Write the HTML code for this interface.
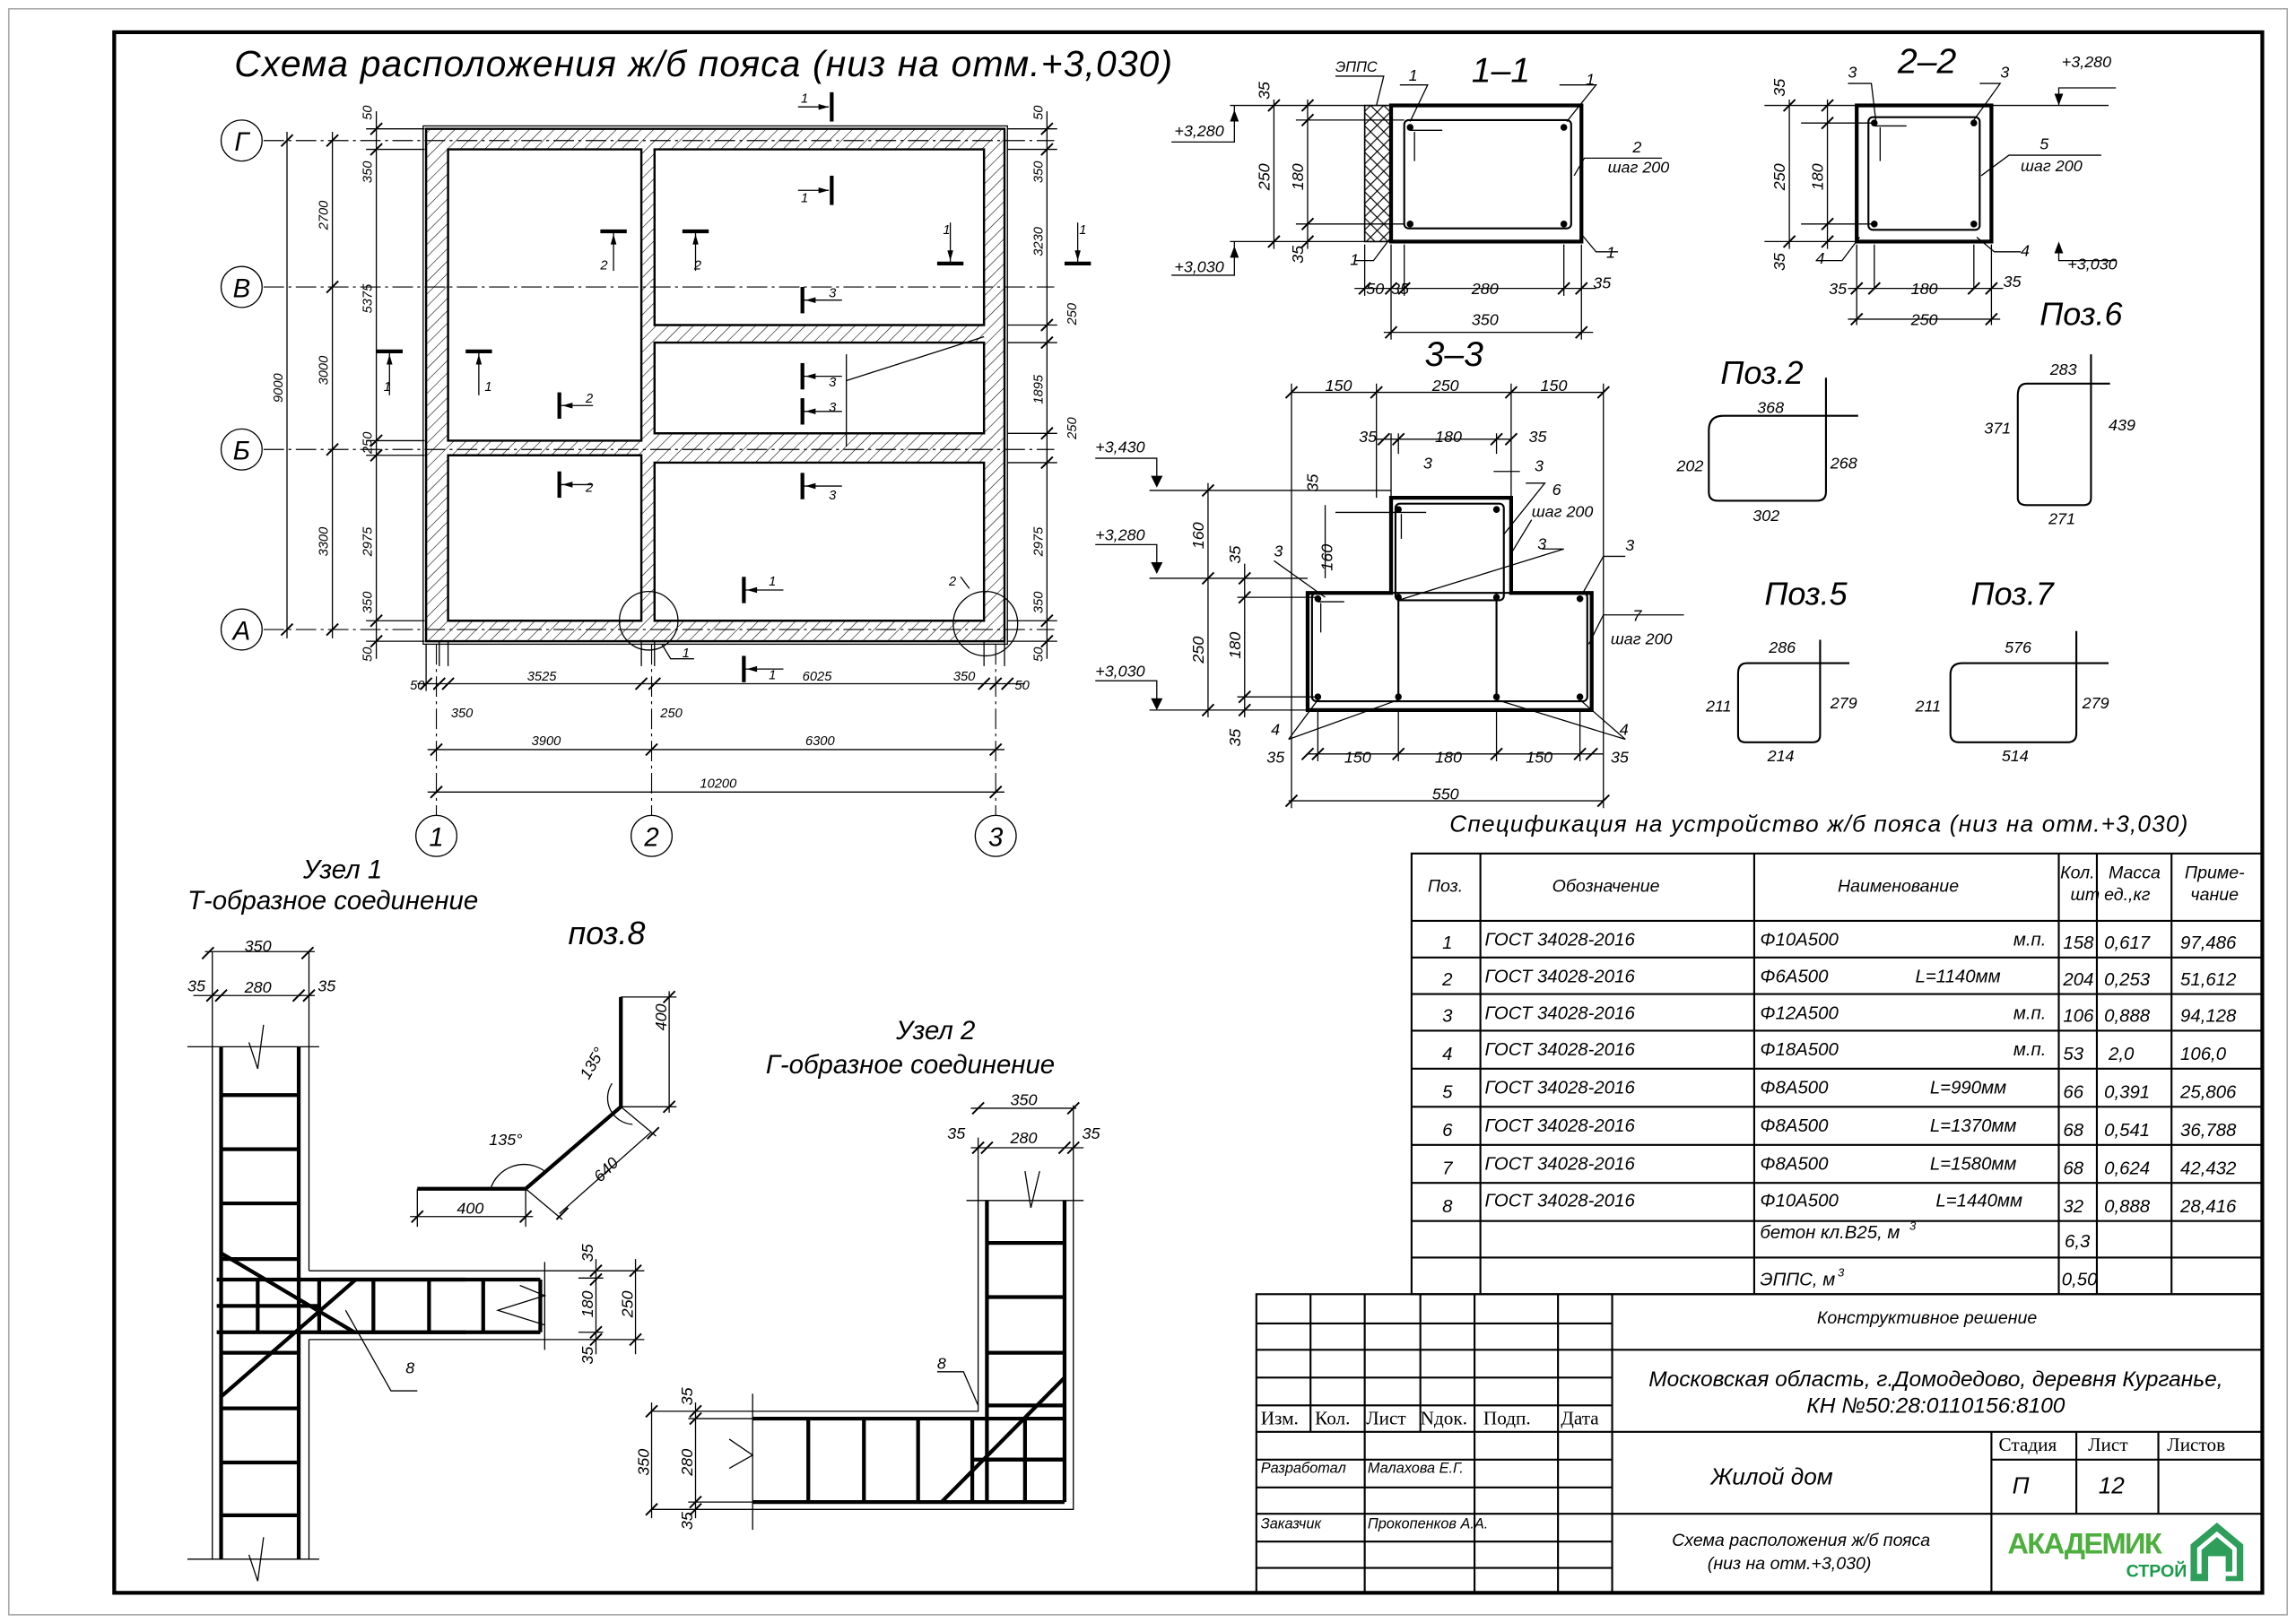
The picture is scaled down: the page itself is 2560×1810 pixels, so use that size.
<!DOCTYPE html>
<html><head><meta charset="utf-8">
<style>
html,body{margin:0;padding:0;background:#fff}
svg{display:block}
text{font-family:"Liberation Sans","DejaVu Sans",sans-serif;font-style:italic;fill:#000}
.s{font-family:"Liberation Serif",serif;font-style:normal}
.t{stroke:#000;stroke-width:.8;fill:none}
.m{stroke:#000;stroke-width:1.3;fill:none}
.b{stroke:#000;stroke-width:2.6;fill:none}
.ax{stroke:#000;stroke-width:.7;fill:none;stroke-dasharray:14 3 2 3}
</style></head>
<body>
<svg width="2560" height="1810" viewBox="0 0 1568 1108.6" xmlns="http://www.w3.org/2000/svg">
<defs>
<pattern id="h" width="6" height="6" patternUnits="userSpaceOnUse" patternTransform="rotate(45)">
<line x1="0" y1="0" x2="0" y2="6" stroke="#000" stroke-width=".7"/>
</pattern>
<pattern id="x" width="9" height="9" patternUnits="userSpaceOnUse">
<path d="M0,0L9,9M9,0L0,9" stroke="#000" stroke-width=".7"/>
</pattern>
<path id="tk" d="M-4,4L4,-4" stroke="#000" stroke-width="1.2"/>
</defs>
<rect x="0" y="0" width="1568" height="1108.6" fill="#fff"/>
<rect x="6" y="6" width="1556" height="1097" fill="none" stroke="#aaa" stroke-width="1"/>
<rect x="78" y="22" width="1467" height="1066" class="b" stroke-width="2"/>

<!-- TITLE -->
<text x="160" y="52" font-size="25" letter-spacing="0.7">Схема расположения ж/б пояса (низ на отм.+3,030)</text>

<!-- PLAN -->
<path fill-rule="evenodd" fill="url(#h)" stroke="#000" stroke-width="1.5" d="M291,88H686V438H291Z M306,102H438V301H306Z M447,102H672V222H447Z M447,234H672V296H447Z M306,311H438V424H306Z M447,316H672V424H447Z"/>
<rect x="289" y="86" width="399" height="354" class="t"/>
<line x1="300" y1="438" x2="300" y2="455" class="t"/><line x1="306" y1="438" x2="306" y2="455" class="t"/>
<line x1="672" y1="438" x2="672" y2="455" class="t"/><line x1="686" y1="438" x2="686" y2="455" class="t"/>
<line x1="438" y1="438" x2="438" y2="455" class="t"/><line x1="447" y1="438" x2="447" y2="455" class="t"/>
<line x1="180" y1="96" x2="720" y2="96" class="ax"/>
<line x1="180" y1="196" x2="720" y2="196" class="ax"/>
<line x1="180" y1="307" x2="720" y2="307" class="ax"/>
<line x1="180" y1="430" x2="720" y2="430" class="ax"/>
<line x1="298" y1="440" x2="298" y2="557" class="ax"/>
<line x1="445" y1="440" x2="445" y2="557" class="ax"/>
<line x1="680" y1="440" x2="680" y2="557" class="ax"/>
<g class="t">
<circle cx="165" cy="96" r="14"/><circle cx="165" cy="196" r="14"/><circle cx="165" cy="307" r="14"/><circle cx="165" cy="430" r="14"/>
<circle cx="298" cy="571" r="14"/><circle cx="445" cy="571" r="14"/><circle cx="680" cy="571" r="14"/>
</g>
<g font-size="18" text-anchor="middle">
<text x="165" y="103">Г</text><text x="165" y="203">В</text><text x="165" y="314">Б</text><text x="165" y="437">А</text>
<text x="298" y="578">1</text><text x="445" y="578">2</text><text x="680" y="578">3</text>
</g>
<g class="t">
<line x1="196" y1="90" x2="196" y2="436"/><line x1="227" y1="90" x2="227" y2="436"/><line x1="257" y1="76" x2="257" y2="450"/>
<line x1="715" y1="76" x2="715" y2="450"/>
<line x1="250" y1="88" x2="290" y2="88"/><line x1="250" y1="102" x2="290" y2="102"/><line x1="250" y1="438" x2="290" y2="438"/><line x1="250" y1="424" x2="290" y2="424"/>
<line x1="250" y1="301" x2="290" y2="301"/><line x1="250" y1="311" x2="290" y2="311"/>
<line x1="688" y1="88" x2="722" y2="88"/><line x1="688" y1="102" x2="722" y2="102"/><line x1="688" y1="222" x2="722" y2="222"/><line x1="688" y1="234" x2="722" y2="234"/>
<line x1="688" y1="296" x2="722" y2="296"/><line x1="688" y1="316" x2="722" y2="316"/><line x1="688" y1="424" x2="722" y2="424"/><line x1="688" y1="438" x2="722" y2="438"/>
<line x1="285" y1="467" x2="700" y2="467"/><line x1="292" y1="512" x2="686" y2="512"/><line x1="292" y1="541" x2="686" y2="541"/>
<line x1="291" y1="440" x2="291" y2="472"/>
</g>
<g>
<use href="#tk" x="196" y="96"/><use href="#tk" x="196" y="430"/>
<use href="#tk" x="227" y="96"/><use href="#tk" x="227" y="196"/><use href="#tk" x="227" y="307"/><use href="#tk" x="227" y="430"/>
<use href="#tk" x="257" y="88"/><use href="#tk" x="257" y="102"/><use href="#tk" x="257" y="301"/><use href="#tk" x="257" y="311"/><use href="#tk" x="257" y="424"/><use href="#tk" x="257" y="438"/>
<use href="#tk" x="715" y="88"/><use href="#tk" x="715" y="102"/><use href="#tk" x="715" y="222"/><use href="#tk" x="715" y="234"/><use href="#tk" x="715" y="296"/><use href="#tk" x="715" y="316"/><use href="#tk" x="715" y="424"/><use href="#tk" x="715" y="438"/>
<use href="#tk" x="291" y="467"/><use href="#tk" x="300" y="467"/><use href="#tk" x="306" y="467"/><use href="#tk" x="438" y="467"/><use href="#tk" x="447" y="467"/><use href="#tk" x="672" y="467"/><use href="#tk" x="680" y="467"/><use href="#tk" x="688" y="467"/>
<use href="#tk" x="298" y="512"/><use href="#tk" x="445" y="512"/><use href="#tk" x="680" y="512"/>
<use href="#tk" x="298" y="541"/><use href="#tk" x="680" y="541"/>
</g>
<g font-size="9">
<text transform="translate(193,275) rotate(-90)">9000</text>
<text transform="translate(224,157) rotate(-90)">2700</text>
<text transform="translate(224,263) rotate(-90)">3000</text>
<text transform="translate(224,380) rotate(-90)">3300</text>
<text transform="translate(254,82) rotate(-90)">50</text>
<text transform="translate(254,125) rotate(-90)">350</text>
<text transform="translate(254,214) rotate(-90)">5375</text>
<text transform="translate(254,310) rotate(-90)">250</text>
<text transform="translate(254,380) rotate(-90)">2975</text>
<text transform="translate(254,419) rotate(-90)">350</text>
<text transform="translate(254,452) rotate(-90)">50</text>
<text transform="translate(712,82) rotate(-90)">50</text>
<text transform="translate(712,125) rotate(-90)">350</text>
<text transform="translate(712,175) rotate(-90)">3230</text>
<text transform="translate(735,222) rotate(-90)">250</text>
<text transform="translate(712,276) rotate(-90)">1895</text>
<text transform="translate(735,300) rotate(-90)">250</text>
<text transform="translate(712,380) rotate(-90)">2975</text>
<text transform="translate(712,419) rotate(-90)">350</text>
<text transform="translate(712,452) rotate(-90)">50</text>
<text x="280" y="471">50</text><text x="360" y="465">3525</text><text x="548" y="465">6025</text><text x="651" y="465">350</text><text x="693" y="471">50</text>
<text x="308" y="490">350</text><text x="451" y="490">250</text>
<text x="363" y="509">3900</text><text x="550" y="509">6300</text><text x="478" y="538">10200</text>
<text x="547" y="70">1</text><text x="547" y="138">1</text><text x="410" y="184">2</text><text x="474" y="184">2</text>
<text x="644" y="160">1</text><text x="737" y="160">1</text>
<text x="262" y="267">1</text><text x="331" y="267">1</text><text x="400" y="275">2</text><text x="400" y="336">2</text>
<text x="566" y="203">3</text><text x="566" y="264">3</text><text x="566" y="281">3</text><text x="566" y="341">3</text>
<text x="525" y="400">1</text><text x="525" y="464">1</text><text x="648" y="400">2</text><text x="466" y="449">1</text>
</g>
<g class="b" stroke-width="2.4">
<path d="M568,63V83"/><path d="M568,120V140"/><path d="M410,158H428"/><path d="M466,158H484"/>
<path d="M640,180H658"/><path d="M727,180H745"/><path d="M257,240H275"/><path d="M318,240H336"/>
<path d="M382,268V286"/><path d="M382,322V340"/><path d="M548,196V214"/><path d="M548,248V266"/>
<path d="M548,272V290"/><path d="M548,323V341"/><path d="M508,394V412"/><path d="M508,448V466"/>
</g>
<g class="t">
<path d="M545,73H566"/><path d="M545,130H566"/><path d="M419,158V185"/><path d="M475,158V185"/>
<path d="M649,180V152"/><path d="M736,180V152"/><path d="M266,240V270"/><path d="M327,240V270"/>
<path d="M382,277H405"/><path d="M382,331H405"/><path d="M548,205H575"/><path d="M548,257H575"/><path d="M548,281H575"/><path d="M548,332H575"/><path d="M508,403H535"/><path d="M508,457H535"/>
<circle cx="443" cy="424" r="20"/><circle cx="673" cy="426" r="22"/>
<path d="M452,440L458,450H474"/><path d="M662,402L656,394"/>
<path d="M578,242V305M578,260L672,230"/>
</g>
<g fill="#000">
<path d="M566,73l-7,-2v4z"/><path d="M566,130l-7,-2v4z"/><path d="M419,160l-2,7h4z"/><path d="M475,160l-2,7h4z"/>
<path d="M649,178l-2,-7h4z"/><path d="M736,178l-2,-7h4z"/><path d="M266,242l-2,7h4z"/><path d="M327,242l-2,7h4z"/>
<path d="M384,277l7,-2v4z"/><path d="M384,331l7,-2v4z"/><path d="M550,205l7,-2v4z"/><path d="M550,257l7,-2v4z"/><path d="M550,281l7,-2v4z"/><path d="M550,332l7,-2v4z"/><path d="M510,403l7,-2v4z"/><path d="M510,457l7,-2v4z"/>
</g>

<!-- SECTION 1-1 -->
<text x="1005" y="56" font-size="24">1–1</text>
<rect x="932" y="72" width="18" height="93" fill="url(#x)" stroke="#000" stroke-width="1"/>
<rect x="950" y="72" width="130" height="93" class="b" stroke-width="2"/>
<rect x="959" y="82" width="114" height="74" rx="3" class="m"/>
<g fill="#000"><circle cx="963" cy="87" r="2.3"/><circle cx="1068" cy="87" r="2.3"/><circle cx="963" cy="153" r="2.3"/><circle cx="1068" cy="153" r="2.3"/></g>
<path d="M963,89H985M966,90V110" class="t"/>
<g class="t">
<path d="M840,72H932M840,165H932M870,68V170M893,68V170M885,82H959M885,153H959"/>
<path d="M800,97H843V72M800,188H843V165"/>
<path d="M932,167V202M950,167V232M959,167V202M1068,167V202M1080,167V232M925,197H1090M945,227H1088"/>
<path d="M912,52H945L940,72"/>
<path d="M956,58H975L963,83"/><path d="M1065,58H1090L1070,83"/><path d="M1075,120L1082,108H1135"/><path d="M1080,160L1090,172H1105"/><path d="M950,162L938,178H925"/>
</g>
<path d="M843,75l-3,8h6z M843,168l-3,8h6z" fill="#000"/>
<g><use href="#tk" x="870" y="72"/><use href="#tk" x="870" y="165"/><use href="#tk" x="893" y="72"/><use href="#tk" x="893" y="82"/><use href="#tk" x="893" y="153"/><use href="#tk" x="893" y="165"/>
<use href="#tk" x="932" y="197"/><use href="#tk" x="950" y="197"/><use href="#tk" x="959" y="197"/><use href="#tk" x="1068" y="197"/><use href="#tk" x="1080" y="197"/><use href="#tk" x="950" y="227"/><use href="#tk" x="1080" y="227"/></g>
<g font-size="11">
<text x="802" y="93">+3,280</text><text x="802" y="186">+3,030</text>
<text x="912" y="49" font-size="10">ЭППС</text>
<text x="962" y="55">1</text><text x="1083" y="58">1</text><text x="1115" y="104">2</text><text x="1098" y="118">шаг 200</text><text x="1097" y="176">1</text><text x="922" y="181">1</text>
<text transform="translate(867,68) rotate(-90)">35</text>
<text transform="translate(867,130) rotate(-90)">250</text>
<text transform="translate(890,130) rotate(-90)">180</text>
<text transform="translate(890,180) rotate(-90)">35</text>
<text x="933" y="201">50</text><text x="950" y="201">35</text><text x="1005" y="201">280</text><text x="1088" y="197">35</text><text x="1005" y="222">350</text>
</g>

<!-- SECTION 2-2 -->
<text x="1296" y="50" font-size="24">2–2</text>
<rect x="1268" y="72" width="92" height="93" class="b" stroke-width="2"/>
<rect x="1276" y="80" width="76" height="77" rx="3" class="m"/>
<g fill="#000"><circle cx="1280" cy="84" r="2.3"/><circle cx="1348" cy="84" r="2.3"/><circle cx="1280" cy="153" r="2.3"/><circle cx="1348" cy="153" r="2.3"/></g>
<path d="M1280,86H1302M1284,87V110" class="t"/>
<g class="t">
<path d="M1205,72H1268M1360,72H1440M1205,165H1268M1230,84H1280M1230,153H1280M1222,68V170M1248,68V170"/>
<path d="M1406,72V60H1445M1406,168V178H1445"/>
<path d="M1268,167V222M1280,167V197M1348,167V197M1360,167V222M1262,197H1368M1262,218H1366"/>
<path d="M1262,57H1278L1281,82"/><path d="M1352,57H1366L1348,82"/><path d="M1353,120L1372,106H1435"/><path d="M1350,162L1362,172H1380"/><path d="M1270,162L1258,178H1240"/>
</g>
<path d="M1406,72l-3,-8h6z M1406,165l-3,8h6z" fill="#000"/>
<g><use href="#tk" x="1222" y="72"/><use href="#tk" x="1222" y="165"/><use href="#tk" x="1248" y="72"/><use href="#tk" x="1248" y="84"/><use href="#tk" x="1248" y="153"/><use href="#tk" x="1248" y="165"/>
<use href="#tk" x="1268" y="197"/><use href="#tk" x="1280" y="197"/><use href="#tk" x="1348" y="197"/><use href="#tk" x="1360" y="197"/><use href="#tk" x="1268" y="218"/><use href="#tk" x="1360" y="218"/></g>
<g font-size="11">
<text x="1408" y="46">+3,280</text><text x="1412" y="184">+3,030</text>
<text x="1262" y="53">3</text><text x="1366" y="53">3</text><text x="1393" y="102">5</text><text x="1380" y="117">шаг 200</text><text x="1380" y="175">4</text><text x="1240" y="180">4</text>
<text transform="translate(1219,66) rotate(-90)">35</text>
<text transform="translate(1219,130) rotate(-90)">250</text>
<text transform="translate(1245,130) rotate(-90)">180</text>
<text transform="translate(1219,185) rotate(-90)">35</text>
<text x="1249" y="201">35</text><text x="1305" y="201">180</text><text x="1368" y="196">35</text><text x="1305" y="222">250</text>
</g>

<!-- SECTION 3-3 -->
<text x="973" y="250" font-size="24">3–3</text>
<path d="M950,340H1032V405H1087V485H893V405H950Z" class="b" stroke-width="2"/>
<rect x="953" y="344" width="74" height="66" rx="3" class="m"/>
<rect x="896" y="405" width="188" height="74" rx="3" class="m"/>
<line x1="955" y1="405" x2="955" y2="478" class="m"/><line x1="1022" y1="405" x2="1022" y2="478" class="m"/>
<g fill="#000"><circle cx="955" cy="348" r="2.3"/><circle cx="1022" cy="348" r="2.3"/>
<circle cx="900" cy="409" r="2.3"/><circle cx="955" cy="408" r="2.3"/><circle cx="1022" cy="408" r="2.3"/><circle cx="1079" cy="409" r="2.3"/>
<circle cx="900" cy="476" r="2.3"/><circle cx="955" cy="476" r="2.3"/><circle cx="1022" cy="476" r="2.3"/><circle cx="1079" cy="476" r="2.3"/></g>
<path d="M955,350H974M957,351V368M900,411H918M902,412V432" class="t"/>
<g class="t">
<path d="M882,268H1095M940,300H1032"/>
<path d="M882,262V552M940,262V340M1032,262V405M1095,262V552M950,296V345M955,296V310M1022,296V310M1032,296V310"/>
<path d="M893,515H1095M880,547H1095M900,485V520M955,485V520M1022,485V520M1079,485V520"/>
<path d="M785,335H950M785,395H893M785,485H893M825,330V490M850,385V490M845,408H900M845,476H900"/>
<path d="M912,350H955M905,345V395"/>
<path d="M748,313H790V330M748,372H790V390M748,465H790V482"/>
<path d="M870,383L905,408"/><path d="M1053,375H1068L955,410"/><path d="M1110,380H1095L1081,405"/><path d="M1042,330H1055L1027,365"/><path d="M1020,322H1038"/><path d="M1046,355L1032,378"/>
<path d="M1085,440L1095,420H1150"/><path d="M880,505L900,478M955,478L880,505"/><path d="M1110,505L1079,478M1022,478L1110,505"/>
</g>
<path d="M790,333l-4,-8h8z M790,392l-4,-8h8z M790,485l-4,-8h8z" fill="#000"/>
<g><use href="#tk" x="882" y="268"/><use href="#tk" x="940" y="268"/><use href="#tk" x="1032" y="268"/><use href="#tk" x="1095" y="268"/>
<use href="#tk" x="945" y="300"/><use href="#tk" x="955" y="300"/><use href="#tk" x="1022" y="300"/><use href="#tk" x="1032" y="300"/>
<use href="#tk" x="825" y="335"/><use href="#tk" x="825" y="395"/><use href="#tk" x="825" y="485"/><use href="#tk" x="850" y="395"/><use href="#tk" x="850" y="408"/><use href="#tk" x="850" y="476"/><use href="#tk" x="850" y="485"/>
<use href="#tk" x="893" y="515"/><use href="#tk" x="900" y="515"/><use href="#tk" x="955" y="515"/><use href="#tk" x="1022" y="515"/><use href="#tk" x="1079" y="515"/><use href="#tk" x="1087" y="515"/><use href="#tk" x="882" y="547"/><use href="#tk" x="1095" y="547"/></g>
<g font-size="11">
<text x="905" y="267">150</text><text x="978" y="267">250</text><text x="1052" y="267">150</text>
<text x="928" y="302">35</text><text x="980" y="302">180</text><text x="1044" y="302">35</text>
<text x="748" y="309">+3,430</text><text x="748" y="369">+3,280</text><text x="748" y="462">+3,030</text>
<text transform="translate(822,375) rotate(-90)">160</text><text transform="translate(822,453) rotate(-90)">250</text>
<text transform="translate(847,385) rotate(-90)">35</text><text transform="translate(847,450) rotate(-90)">180</text><text transform="translate(847,510) rotate(-90)">35</text>
<text transform="translate(900,336) rotate(-90)">35</text><text transform="translate(910,390) rotate(-90)">160</text>
<text x="972" y="320">3</text><text x="1048" y="322">3</text><text x="1060" y="338">6</text><text x="1046" y="353">шаг 200</text>
<text x="1050" y="375">3</text><text x="1110" y="376">3</text><text x="870" y="380">3</text>
<text x="1115" y="424">7</text><text x="1100" y="440">шаг 200</text>
<text x="868" y="502">4</text><text x="1106" y="502">4</text>
<text x="865" y="521">35</text><text x="918" y="521">150</text><text x="980" y="521">180</text><text x="1042" y="521">150</text><text x="1100" y="521">35</text><text x="978" y="546">550</text>
</g>

<!-- POZ shapes -->
<g font-size="22"><text x="1175" y="262">Поз.2</text><text x="1393" y="222">Поз.6</text><text x="1205" y="413">Поз.5</text><text x="1346" y="413">Поз.7</text></g>
<g class="m" stroke-width="1.8">
<path d="M1269,284H1177Q1167,284 1167,294V336Q1167,342 1173,342H1241Q1247,342 1247,336V258"/>
<path d="M1441,262H1384Q1378,262 1378,270V340Q1378,345 1384,345H1423Q1428,345 1428,340V242"/>
<path d="M1263,453H1193Q1187,453 1187,460V502Q1187,507 1192,507H1238Q1243,507 1243,502V437"/>
<path d="M1440,453H1340Q1332,453 1332,461V501Q1332,507 1338,507H1412Q1418,507 1418,501V431"/>
</g>
<g font-size="11">
<text x="1200" y="282">368</text><text x="1145" y="322">202</text><text x="1250" y="320">268</text><text x="1197" y="356">302</text>
<text x="1400" y="256">283</text><text x="1355" y="296">371</text><text x="1440" y="294">439</text><text x="1399" y="358">271</text>
<text x="1208" y="446">286</text><text x="1165" y="486">211</text><text x="1250" y="484">279</text><text x="1207" y="520">214</text>
<text x="1369" y="446">576</text><text x="1308" y="486">211</text><text x="1422" y="484">279</text><text x="1367" y="520">514</text>
</g>

<!-- SPEC -->
<text x="990" y="568" font-size="16" letter-spacing="0.75">Спецификация на устройство ж/б пояса (низ на отм.+3,030)</text>
<g class="m" stroke-width="1.6">
<rect x="964" y="583" width="581" height="301"/>
<path d="M1011,583V884M1198,583V884M1406,583V884M1432,583V884M1483,583V884"/>
<path d="M964,629H1545M964,654H1545M964,679H1545M964,704H1545M964,730H1545M964,756H1545M964,782H1545M964,808H1545M964,834H1545M964,859H1545"/>
</g>
<g font-size="12">
<text x="975" y="609">Поз.</text><text x="1060" y="609">Обозначение</text><text x="1255" y="609">Наименование</text>
<text x="1407" y="600">Кол.</text><text x="1414" y="615">шт</text><text x="1440" y="600">Масса</text><text x="1437" y="615">ед.,кг</text><text x="1492" y="600">Приме-</text><text x="1496" y="615">чание</text>
</g>
<g font-size="12.5">
<text x="985" y="648">1</text><text x="1014" y="646">ГОСТ 34028-2016</text><text x="1202" y="646">Φ10A500</text><text x="1375" y="646">м.п.</text><text x="1409" y="648">158</text><text x="1437" y="648">0,617</text><text x="1489" y="648">97,486</text>
<text x="985" y="673">2</text><text x="1014" y="671">ГОСТ 34028-2016</text><text x="1202" y="671">Φ6A500</text><text x="1308" y="671">L=1140мм</text><text x="1409" y="673">204</text><text x="1437" y="673">0,253</text><text x="1489" y="673">51,612</text>
<text x="985" y="698">3</text><text x="1014" y="696">ГОСТ 34028-2016</text><text x="1202" y="696">Φ12A500</text><text x="1375" y="696">м.п.</text><text x="1409" y="698">106</text><text x="1437" y="698">0,888</text><text x="1489" y="698">94,128</text>
<text x="985" y="724">4</text><text x="1014" y="721">ГОСТ 34028-2016</text><text x="1202" y="721">Φ18A500</text><text x="1375" y="721">м.п.</text><text x="1409" y="724">53</text><text x="1440" y="724">2,0</text><text x="1489" y="724">106,0</text>
<text x="985" y="750">5</text><text x="1014" y="747">ГОСТ 34028-2016</text><text x="1202" y="747">Φ8A500</text><text x="1318" y="747">L=990мм</text><text x="1409" y="750">66</text><text x="1437" y="750">0,391</text><text x="1489" y="750">25,806</text>
<text x="985" y="776">6</text><text x="1014" y="773">ГОСТ 34028-2016</text><text x="1202" y="773">Φ8A500</text><text x="1318" y="773">L=1370мм</text><text x="1409" y="776">68</text><text x="1437" y="776">0,541</text><text x="1489" y="776">36,788</text>
<text x="985" y="802">7</text><text x="1014" y="799">ГОСТ 34028-2016</text><text x="1202" y="799">Φ8A500</text><text x="1318" y="799">L=1580мм</text><text x="1409" y="802">68</text><text x="1437" y="802">0,624</text><text x="1489" y="802">42,432</text>
<text x="985" y="828">8</text><text x="1014" y="824">ГОСТ 34028-2016</text><text x="1202" y="824">Φ10A500</text><text x="1322" y="824">L=1440мм</text><text x="1409" y="828">32</text><text x="1437" y="828">0,888</text><text x="1489" y="828">28,416</text>
<text x="1202" y="846">бетон кл.B25, м</text><text x="1304" y="840" font-size="8">3</text><text x="1410" y="852">6,3</text>
<text x="1202" y="878">ЭППС, м</text><text x="1255" y="872" font-size="8">3</text><text x="1408" y="878">0,50</text>
</g>

<!-- TITLE BLOCK -->
<g class="m" stroke-width="1.6">
<rect x="858" y="884" width="687" height="204"/>
<path d="M1101,884V1088M895,884V978M970,884V978M932,884V1088M1007,884V1088M1064,884V1088"/>
<path d="M858,904H1101M858,922H1101M858,941H1101M858,960H1101M858,978H1545M858,997H1101M858,1016H1101M858,1034H1545M858,1053H1101M858,1071H1101"/>
<path d="M1101,922H1545M1360,978V1088M1418,978V1034M1474,978V1034M1360,997H1545"/>
</g>
<g class="s" font-size="13">
<text x="861" y="973" class="s">Изм.</text><text x="898" y="973" class="s">Кол.</text><text x="933" y="973" class="s">Лист</text><text x="970" y="973" class="s">Nдок.</text><text x="1013" y="973" class="s">Подп.</text><text x="1066" y="973" class="s">Дата</text>
<text x="1365" y="991" class="s">Стадия</text><text x="1426" y="991" class="s">Лист</text><text x="1480" y="991" class="s">Листов</text>
</g>
<g font-size="10"><text x="861" y="1006">Разработал</text><text x="934" y="1006">Малахова Е.Г.</text><text x="861" y="1044">Заказчик</text><text x="934" y="1044">Прокопенков А.А.</text></g>
<g text-anchor="middle">
<text x="1316" y="904" font-size="12">Конструктивное решение</text>
<text x="1322" y="947" font-size="15">Московская область, г.Домодедово, деревня Курганье,</text>
<text x="1322" y="965" font-size="15">КН №50:28:0110156:8100</text>
<text x="1210" y="1014" font-size="16">Жилой дом</text>
<text x="1380" y="1020" font-size="16">П</text><text x="1442" y="1020" font-size="16">12</text>
<text x="1230" y="1056" font-size="12">Схема расположения ж/б пояса</text>
<text x="1222" y="1072" font-size="12">(низ на отм.+3,030)</text>
</g>
<text x="1371" y="1061" font-size="20" font-weight="bold" style="font-style:normal;fill:#4cae3c" letter-spacing="-1">АКАДЕМИК</text>
<text x="1452" y="1077" font-size="12" font-weight="bold" style="font-style:normal;fill:#1a9a4a">СТРОЙ</text>
<path d="M1496,1080V1055L1514,1040L1532,1055V1080H1520V1063H1508V1080Z" fill="#2e9e5a"/>
<path d="M1502,1075V1058L1514,1048L1526,1058V1075H1514V1068" fill="none" stroke="#fff" stroke-width="3"/>

<!-- USEL 1 -->
<text x="207" y="600" font-size="18">Узел 1</text>
<text x="128" y="621" font-size="18">Т-образное соединение</text>
<text x="388" y="645" font-size="22">поз.8</text>
<g class="t">
<path d="M145,715V1065M211,715V868M211,915V1065M211,868H372M211,915H372"/>
<path d="M128,715H218M128,1065H218M132,680H215M140,650H215M145,650V715M211,650V715"/>
<path d="M180,700L176,730L170,712"/><path d="M180,1050L176,1080L170,1062"/>
<path d="M372,862V922M355,878L372,885L340,895L372,905"/>
<path d="M372,868H440M372,915H440M395,873H412M395,910H412M407,860V925M434,860V925"/>
<path d="M236,895L267,950H285"/>
</g>
<g class="b" stroke-width="2.2">
<path d="M151,715V1065M204,715V1065"/>
<path d="M151,748H204M151,785H204M151,822H204M151,860H204M151,924H204M151,962H204M151,999H204M151,1035H204"/>
<path d="M148,874H318M148,910H318M176,874V910M218,874V910M148,892H218"/>
<path d="M255,874V910M293,874V910M330,874V910M369,874V910M218,874H369M218,910H369"/>
<path d="M151,856L242,910M151,954L243,874"/>
</g>
<g><use href="#tk" x="142" y="651"/><use href="#tk" x="210" y="651"/><use href="#tk" x="145" y="680"/><use href="#tk" x="151" y="680"/><use href="#tk" x="204" y="680"/><use href="#tk" x="211" y="680"/>
<use href="#tk" x="407" y="868"/><use href="#tk" x="407" y="874"/><use href="#tk" x="407" y="910"/><use href="#tk" x="407" y="915"/><use href="#tk" x="434" y="868"/><use href="#tk" x="434" y="915"/></g>
<g font-size="11">
<text x="167" y="650">350</text><text x="128" y="677">35</text><text x="167" y="678">280</text><text x="217" y="677">35</text>
<text transform="translate(405,862) rotate(-90)">35</text><text transform="translate(405,900) rotate(-90)">180</text><text transform="translate(405,932) rotate(-90)">35</text><text transform="translate(432,900) rotate(-90)">250</text>
<text x="277" y="938">8</text>
</g>
<path d="M285,812H359L424,756V681" class="b" stroke-width="2.6"/>
<g class="t">
<path d="M285,812V838M359,812V838M280,831H364"/>
<path d="M424,681H462M424,756H462M457,677V760"/>
<path d="M359,812L384,833M424,756L448,776M382,829L445,773"/>
<path d="M335,812A24,24 0 0 1 372,800"/><path d="M418,740A18,18 0 0 0 432,768"/>
</g>
<g><use href="#tk" x="285" y="831"/><use href="#tk" x="359" y="831"/><use href="#tk" x="457" y="681"/><use href="#tk" x="457" y="756"/><use href="#tk" x="384" y="829"/><use href="#tk" x="446" y="774"/></g>
<g font-size="11">
<text x="312" y="829">400</text><text transform="translate(455,704) rotate(-90)">400</text>
<text transform="translate(410,808) rotate(-45)">640</text>
<text x="334" y="782">135°</text><text transform="translate(402,738) rotate(-60)">135°</text>
</g>

<!-- USEL 2 -->
<text x="612" y="710" font-size="18">Узел 2</text>
<text x="523" y="733" font-size="18">Г-образное соединение</text>
<g class="t">
<path d="M668,820V964H514M733,820V1031H514M668,777V820M733,755V820M663,757H735M663,784H740"/>
<path d="M660,820H740M700,800L704,825L710,800"/>
<path d="M514,952V1045M498,983L514,994L498,1003"/>
<path d="M445,964H514M470,969H514M470,1026H514M445,1031H514M445,958V1037M475,958V1037"/>
<path d="M668,960L658,937H640"/>
</g>
<g class="b" stroke-width="2.2">
<path d="M674,820V1026M727,820V1026"/>
<path d="M674,849H727M674,886H727M674,924H727M674,960H727M674,997H727"/>
<path d="M514,969H727M514,1026H727"/>
<path d="M552,969V1026M590,969V1026M627,969V1026M664,969V1026M700,969V1026M664,997H727"/>
<path d="M643,1026L727,941"/>
</g>
<g><use href="#tk" x="668" y="757"/><use href="#tk" x="733" y="757"/><use href="#tk" x="668" y="784"/><use href="#tk" x="674" y="784"/><use href="#tk" x="727" y="784"/><use href="#tk" x="733" y="784"/>
<use href="#tk" x="445" y="964"/><use href="#tk" x="445" y="1031"/><use href="#tk" x="475" y="964"/><use href="#tk" x="475" y="969"/><use href="#tk" x="475" y="1026"/><use href="#tk" x="475" y="1031"/></g>
<g font-size="11">
<text x="690" y="755">350</text><text x="647" y="778">35</text><text x="690" y="781">280</text><text x="739" y="778">35</text>
<text transform="translate(443,1008) rotate(-90)">350</text><text transform="translate(473,1008) rotate(-90)">280</text><text transform="translate(473,960) rotate(-90)">35</text><text transform="translate(473,1045) rotate(-90)">35</text>
<text x="640" y="935">8</text>
</g>
</svg>
</body></html>
